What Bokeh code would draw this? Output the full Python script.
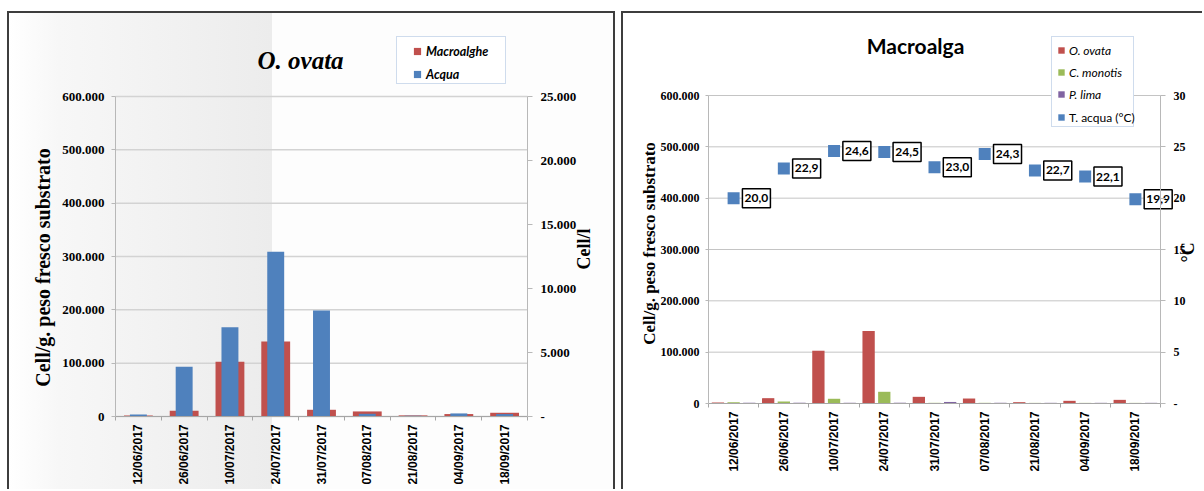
import math
from bokeh.plotting import figure
from bokeh.models import (Range1d, LinearAxis, FixedTicker, Legend, LegendItem,
                          Label, ColumnDataSource)
from bokeh.transform import dodge
from bokeh.embed import file_html
from bokeh.resources import INLINE
from bokeh.core.properties import value

# ---------------- data ----------------
dates = ["12/06/2017", "26/06/2017", "10/07/2017", "24/07/2017", "31/07/2017",
         "07/08/2017", "21/08/2017", "04/09/2017", "18/09/2017"]
macroalghe = [1700, 10600, 102600, 140700, 12600, 9500, 2100, 4600, 7000]
acqua = [160, 3880, 6980, 12870, 8280, 210, 60, 240, 190]
o_ovata = [1900, 10400, 102800, 141000, 13000, 9700, 2600, 5200, 7100]
c_monotis = [2300, 3900, 9200, 22800, 1300, 1300, 1200, 1200, 1200]
p_lima = [1500, 1500, 1400, 1500, 3000, 1400, 1300, 1300, 1300]
t_acqua = [20.0, 22.9, 24.6, 24.5, 23.0, 24.3, 22.7, 22.1, 19.9]

cell_ticks = [0, 100000, 200000, 300000, 400000, 500000, 600000]
cell_tick_labels = ["0", "100.000", "200.000", "300.000", "400.000", "500.000", "600.000"]
acqua_ticks = [0, 5000, 10000, 15000, 20000, 25000]
acqua_tick_labels = ["-", "5.000", "10.000", "15.000", "20.000", "25.000"]
temp_ticks = [0, 5, 10, 15, 20, 25, 30]
temp_tick_labels = ["-", "5", "10", "15", "20", "25", "30"]

RED = "#C0504D"
BLUE = "#4F81BD"
GREEN = "#9BBB59"
PURPLE = "#8064A2"
BORDER = "2px solid #3d3d3d"

n = len(dates)
xc = [i + 0.5 for i in range(n)]
bounds = list(range(n + 1))

src = ColumnDataSource(dict(
    x=xc, date=dates, macroalghe=macroalghe, acqua=acqua, o_ovata=o_ovata,
    c_monotis=c_monotis, p_lima=p_lima, t_acqua=t_acqua,
    t_label=[f"{t:.1f}".replace(".", ",") for t in t_acqua],
))

# ---------------- layout geometry (pixels) ----------------
# canvas size, position of the value origin inside the canvas, size of the value area
G1 = dict(W=608, H=478, left=106, bottom=75, cat_px=412, val_px=320)
G2 = dict(W=581, H=478, left=85, bottom=88, cat_px=452, val_px=308)


def x_range_for(g):
    u = g["cat_px"] / n
    return Range1d(-g["left"] / u, (g["W"] - g["left"]) / u)


def y_range_for(g, top_value):
    u = g["val_px"] / top_value
    return Range1d(-g["bottom"] / u, (g["H"] - g["bottom"]) / u)


def style_y(ax, size, tick_out, standoff, line_color="#b8b8b8"):
    ax.axis_line_color = line_color
    ax.major_tick_line_color = line_color
    ax.major_tick_in = 0
    ax.major_tick_out = tick_out
    ax.minor_tick_line_color = None
    ax.major_label_standoff = standoff
    ax.major_label_text_font = "Liberation Serif"
    ax.major_label_text_font_style = "bold"
    ax.major_label_text_font_size = size
    ax.major_label_text_color = "black"


def value_axis(p, side, ticks, labels, loc, size, tick_out, standoff, range_name="default"):
    ax = LinearAxis(y_range_name=range_name, ticker=FixedTicker(ticks=ticks),
                    major_label_overrides=dict(zip(ticks, labels)),
                    bounds=(ticks[0], ticks[-1]), fixed_location=loc)
    style_y(ax, size, tick_out, standoff)
    p.add_layout(ax, side)


def title_axis(p, side, text, loc, g, top_value, center_px, standoff, size, flip=False,
               range_name="default"):
    # an axis that only carries its title, centred where the reference puts it
    mid = center_px * top_value / g["val_px"]
    ax = LinearAxis(y_range_name=range_name, ticker=FixedTicker(ticks=[]),
                    bounds=(0, 2 * mid), fixed_location=loc, axis_label=text)
    ax.axis_line_color = None
    ax.major_tick_line_color = None
    ax.minor_tick_line_color = None
    ax.major_tick_out = 0
    ax.major_label_text_font_size = "1px"
    ax.axis_label_standoff = standoff
    ax.axis_label_text_font = "Liberation Serif"
    ax.axis_label_text_font_style = "bold"
    ax.axis_label_text_font_size = size
    ax.axis_label_text_color = "black"
    if flip:
        try:
            ax.axis_label_orientation = math.pi / 2
        except Exception:
            pass
    p.add_layout(ax, side)


def make_xaxis(p, standoff):
    ax = LinearAxis(ticker=FixedTicker(ticks=xc, minor_ticks=bounds),
                    major_label_overrides=dict(zip(xc, dates)), bounds=(0, n),
                    fixed_location=0)
    ax.major_label_orientation = math.pi / 2
    ax.axis_line_color = "#a6a6a6"
    ax.major_tick_line_color = None
    ax.major_tick_in = 0
    ax.major_tick_out = 0
    ax.minor_tick_line_color = "#a6a6a6"
    ax.minor_tick_in = 0
    ax.minor_tick_out = 4
    ax.major_label_standoff = standoff
    ax.major_label_text_font = "Liberation Sans"
    ax.major_label_text_font_style = "bold"
    ax.major_label_text_font_size = "12px"
    ax.major_label_text_color = "black"
    p.add_layout(ax, "below")


def no_title(p):
    try:
        p.title = None
    except Exception:
        p.title.text = ""
        p.title.text_font_size = "1px"
        p.title.standoff = 0
        p.title.visible = False


def box_legend(p, loc, w, h):
    dummy = p.vbar(x=[], top=[], width=1, fill_alpha=0, line_alpha=0)
    leg = Legend(items=[LegendItem(label=" ", renderers=[dummy])], location=loc,
                 padding=0, margin=0, spacing=0, glyph_width=w, glyph_height=h,
                 label_width=0, label_height=0, label_standoff=0,
                 label_text_font_size="1px",
                 border_line_color="#9fb9dc", border_line_width=1,
                 background_fill_color="white", background_fill_alpha=1)
    p.add_layout(leg)


def swatch(p, col, color, **kw):
    # zero-size markers: invisible in the plot, drawn as small squares in the legend
    return p.scatter(x="x", y=col, source=src, marker="square", size=0,
                     fill_color=color, line_color=None, **kw)


def new_fig(g, top_value):
    p = figure(width=g["W"], height=g["H"], x_range=x_range_for(g),
               y_range=y_range_for(g, top_value), x_axis_type=None, y_axis_type=None,
               output_backend="svg", toolbar_location=None, min_border=0,
               min_border_left=0, min_border_right=0, min_border_top=0, min_border_bottom=0)
    no_title(p)
    p.outline_line_color = None
    return p


# ---------------- left panel: O. ovata ----------------
p1 = new_fig(G1, cell_ticks[-1])
p1.extra_y_ranges = {"acqua": y_range_for(G1, acqua_ticks[-1])}
p1.background_fill_alpha = 0
p1.border_fill_alpha = 0
p1.styles = {
    "position": "absolute", "left": "7px", "top": "11px",
    "border-top": BORDER, "border-left": BORDER, "border-right": BORDER,
    "background": "linear-gradient(to right, #ffffff 0px, #f7f7f7 50px, #ececec 263px, "
                  "#fdfdfd 263px, #fdfdfd 100%)",
}

p1.segment(x0=[0] * len(cell_ticks), y0=cell_ticks, x1=[n] * len(cell_ticks), y1=cell_ticks,
           line_color="#d3d3d3", line_width=1.5, level="underlay")

value_axis(p1, "left", cell_ticks, cell_tick_labels, 0, "13px", 4, 7)
value_axis(p1, "right", acqua_ticks, acqua_tick_labels, n, "13px", 5, 8, "acqua")
title_axis(p1, "left", "Cell/g. peso fresco substrato", 0, G1, cell_ticks[-1],
           149, 62, "20px")
title_axis(p1, "right", "Cell/l", n, G1, acqua_ticks[-1], 147, 56, "18px", flip=True,
           range_name="acqua")
make_xaxis(p1, 4)

p1.vbar(x="x", top="macroalghe", width=0.63, source=src, fill_color=RED, line_color=None)
p1.vbar(x="x", top="acqua", width=0.37, source=src, y_range_name="acqua",
        fill_color=BLUE, line_color=None)

p1.add_layout(Label(x=248, y=431, x_units="screen", y_units="screen", text="O. ovata",
                    text_font="Liberation Serif", text_font_style="bold italic",
                    text_font_size="25px", text_align="left", text_baseline="middle",
                    text_color="black"))

box_legend(p1, (387, 407), 108, 46)
lg_mac = swatch(p1, "macroalghe", RED)
lg_acq = swatch(p1, "acqua", BLUE, y_range_name="acqua")
leg1 = Legend(items=[LegendItem(label="Macroalghe", renderers=[lg_mac]),
                     LegendItem(label="Acqua", renderers=[lg_acq])],
              location=(399, 408), padding=0, margin=0, spacing=5,
              glyph_width=18, glyph_height=18, label_standoff=0, label_height=18,
              border_line_color=None, background_fill_alpha=0,
              label_text_font="Lato", label_text_font_size="12.5px",
              label_text_font_style="bold italic", label_text_color="black")
p1.add_layout(leg1)

# ---------------- right panel: Macroalga ----------------
p2 = new_fig(G2, cell_ticks[-1])
p2.extra_y_ranges = {"temp": y_range_for(G2, temp_ticks[-1])}
p2.background_fill_color = "white"
p2.border_fill_color = "white"
p2.styles = {"position": "absolute", "left": "621px", "top": "11px",
             "border-top": BORDER, "border-left": BORDER, "background": "white"}

p2.segment(x0=[0] * len(cell_ticks), y0=cell_ticks, x1=[n] * len(cell_ticks), y1=cell_ticks,
           line_color="#c4c4c4", line_width=1, level="underlay")

value_axis(p2, "left", cell_ticks, cell_tick_labels, 0, "12px", 3, 6)
value_axis(p2, "right", temp_ticks, temp_tick_labels, n, "12px", 5, 8, "temp")
title_axis(p2, "left", "Cell/g. peso fresco substrato", 0, G2, cell_ticks[-1],
           160, 50, "17px")
title_axis(p2, "right", "°C", n, G2, temp_ticks[-1], 141, 27, "18px", flip=True,
           range_name="temp")
make_xaxis(p2, 4)

p2.vbar(x=dodge("x", -0.312), top="o_ovata", width=0.245, source=src,
        fill_color=RED, line_color=None)
p2.vbar(x="x", top="c_monotis", width=0.245, source=src,
        fill_color=GREEN, line_color=None)
p2.vbar(x=dodge("x", 0.312), top="p_lima", width=0.245, source=src,
        fill_color=PURPLE, line_color=None)
r_temp = p2.scatter(x="x", y="t_acqua", source=src, y_range_name="temp", marker="square",
                    size=12, fill_color=BLUE, line_color=None)

lbl_dx = 22.8 / (G2["cat_px"] / n)   # box centre 22.8 px right of the marker
p2.rect(x=dodge("x", lbl_dx), y="t_acqua", width=28, height=19, width_units="screen",
        height_units="screen", source=src, y_range_name="temp",
        fill_color="white", line_color="black", line_width=1.5)
p2.text(x=dodge("x", lbl_dx), y="t_acqua", text="t_label", source=src, y_range_name="temp",
        text_align="center", text_baseline="middle", text_font=value("Lato"),
        text_font_style="bold", text_font_size="12px", text_color="black")

p2.add_layout(Label(x=292, y=446, x_units="screen", y_units="screen", text="Macroalga",
                    text_font="Lato", text_font_style="bold", text_font_size="21px",
                    text_align="center", text_baseline="middle", text_color="black"))

box_legend(p2, (428, 364), 81, 89)
lg_oo = swatch(p2, "o_ovata", RED)
lg_cm = swatch(p2, "c_monotis", GREEN)
lg_pl = swatch(p2, "p_lima", PURPLE)
leg2a = Legend(items=[LegendItem(label="O. ovata", renderers=[lg_oo]),
                      LegendItem(label="C. monotis", renderers=[lg_cm]),
                      LegendItem(label="P. lima", renderers=[lg_pl])],
               location=(430, 389), padding=0, margin=0, spacing=6,
               glyph_width=16, glyph_height=16, label_standoff=0, label_height=16,
               border_line_color=None, background_fill_alpha=0,
               label_text_font="Lato", label_text_font_size="12px",
               label_text_font_style="italic", label_text_color="black")
p2.add_layout(leg2a)
leg2b = Legend(items=[LegendItem(label="T. acqua (°C)", renderers=[r_temp])],
               location=(430, 366), padding=0, margin=0, spacing=0,
               glyph_width=16, glyph_height=16, label_standoff=0, label_height=16,
               border_line_color=None, background_fill_alpha=0,
               label_text_font="Lato", label_text_font_size="12px",
               label_text_font_style="normal", label_text_color="black")
p2.add_layout(leg2b)

open("out.html", "w").write(file_html([p1, p2], INLINE))
